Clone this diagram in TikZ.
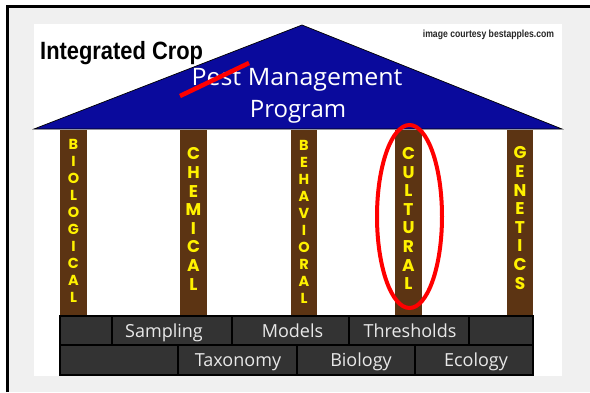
\documentclass[tikz,border=0pt]{standalone}
\usepackage{fontspec}
\setmainfont{Liberation Sans}
\newfontfamily\roundfont{Open Sans}
\newfontfamily\pillarface{Poppins}
\usepackage{tikz}
\definecolor{framegray}{HTML}{F0F0F0}
\definecolor{roofblue}{HTML}{0A0A9C}
\definecolor{woodbrown}{HTML}{5C3413}
\definecolor{brickgray}{HTML}{333333}
\definecolor{lettergold}{HTML}{FFF200}
\definecolor{chalk}{HTML}{E8E8E8}
\newcommand{\pillarsmall}{\pillarface\bfseries\fontsize{14.5}{17}\selectfont}
\newcommand{\pillarlarge}{\pillarface\bfseries\fontsize{17}{18.6}\selectfont}
\newcommand{\brickfont}{\roundfont\fontsize{18}{20}\selectfont}

\begin{document}
\begin{tikzpicture}[x=1pt,y=-1pt,line join=miter]
\useasboundingbox (0,0) rectangle (590,392);
% frame and white picture
\fill[white] (0,0) rectangle (590,392);
\fill[framegray] (7,6) rectangle (590,392);
\draw[line width=3pt] (7,392) -- (7,6) -- (590,6);
\fill[white] (34,24) rectangle (562,376);
% roof
\filldraw[fill=roofblue,draw=black,line width=0.7pt] (34,129) -- (302,25) -- (562,129) -- cycle;
% pillars
\foreach \x/\w in {60/27,180/27,291/26,395/27,507/26}
    \fill[woodbrown] (\x,130) rectangle ++(\w,186);
% bricks
\begin{scope}[every path/.style={fill=brickgray,draw=black,line width=1.2pt}]
\foreach \a/\b in {60/112,112/232,232/349,349/469,469/533}
    \path (\a,316) rectangle (\b,345);
\foreach \a/\b in {60/178,178/297,297/415,415/533}
    \path (\a,345) rectangle (\b,375);
\end{scope}
\begin{scope}[every node/.style={align=center,inner sep=0pt}]
    \node[anchor=base west,font=\bfseries\fontsize{25}{30}\selectfont] (title) at (40,59) {\scalebox{0.875}[1]{Integrated Crop}};
    \node[anchor=base,font=\bfseries\fontsize{10.3}{12}\selectfont,text=black!85] (credit) at (488.5,37.5) {\scalebox{0.84}[1]{image courtesy bestapples.com}};
    \node[anchor=base,font=\roundfont\fontsize{24}{28}\selectfont,text=white] (pest) at (297,85) {\scalebox{1.04}[1]{Pest Management}};
    \node[anchor=base,font=\roundfont\fontsize{24}{28}\selectfont,text=white] (program) at (298,117) {Program};
\end{scope}
% the crossed-out word
\draw[red,line width=4.5pt] (180,96) -- (249,63);
% pillar letters
\begin{scope}[every node/.style={align=center,inner sep=0pt,text=lettergold}]
    \node[font=\pillarsmall] (bio) at (73.5,220.5) {B\\I\\O\\L\\O\\G\\I\\C\\A\\L};
    \node[font=\pillarlarge] (chem) at (193.5,219) {C\\H\\E\\M\\I\\C\\A\\L};
    \node[font=\pillarsmall] (behav) at (304,222) {B\\E\\H\\A\\V\\I\\O\\R\\A\\L};
    \node[font=\pillarlarge] (cult) at (408.5,218.5) {C\\U\\L\\T\\U\\R\\A\\L};
    \node[font=\pillarlarge] (gen) at (520,218) {G\\E\\N\\E\\T\\I\\C\\S};
\end{scope}
% circled pillar
\draw[red,line width=4pt] (409.5,216.5) ellipse [x radius=32.5,y radius=91.5];
% brick labels
\begin{scope}[every node/.style={anchor=base,inner sep=0pt,font=\brickfont,text=chalk}]
    \node (sampling) at (164,337) {Sampling};
    \node (models) at (292.5,337) {Models};
    \node (thresholds) at (410,337) {Thresholds};
    \node (taxonomy) at (238,366) {Taxonomy};
    \node (biology) at (361,366) {Biology};
    \node (ecology) at (476,366) {Ecology};
\end{scope}
\end{tikzpicture}
\end{document}
